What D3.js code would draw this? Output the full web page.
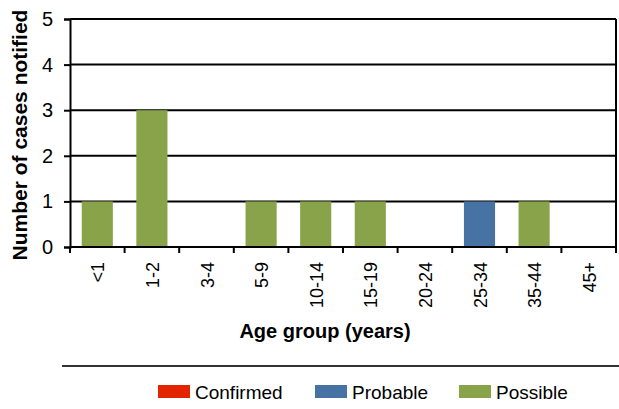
<!DOCTYPE html>
<html>
<head>
<meta charset="utf-8">
<script src="https://cdn.jsdelivr.net/npm/d3@7"></script>
<style>
  body { margin: 0; background: #fff; }
  svg { font-family: "Liberation Sans", Arial, sans-serif; }
</style>
</head>
<body>
<div id="chart"></div>
<script>
var ageGroups = ["<1", "1-2", "3-4", "5-9", "10-14", "15-19", "20-24", "25-34", "35-44", "45+"];
var confirmed = [0, 0, 0, 0, 0, 0, 0, 0, 0, 0];
var probable  = [0, 0, 0, 0, 0, 0, 0, 1, 0, 0];
var possible  = [1, 3, 0, 1, 1, 1, 0, 0, 1, 0];
var seriesNames = ["Confirmed", "Probable", "Possible"];
var seriesColors = ["#e32400", "#4672a4", "#89a34a"];
var yTicks = [0, 1, 2, 3, 4, 5];

var width = 619, height = 409;
var margin = {top: 19, right: 3, bottom: 162, left: 70};
var w = width - margin.left - margin.right,
    h = height - margin.top - margin.bottom;

var svg = d3.select("#chart").append("svg")
    .attr("width", width)
    .attr("height", height);

var g = svg.append("g")
    .attr("transform", "translate(" + margin.left + "," + margin.top + ")");

var table = ageGroups.map(function(a, i) {
  return {age: a, Confirmed: confirmed[i], Probable: probable[i], Possible: possible[i]};
});

var x = d3.scaleBand().domain(ageGroups).range([0, w]).paddingInner(0.43).paddingOuter(0.215);
var xTick = d3.scaleBand().domain(ageGroups).range([0, w]);
var y = d3.scaleLinear().domain([0, 5]).range([h, 0]);
var color = d3.scaleOrdinal().domain(seriesNames).range(seriesColors);

// gridlines
g.selectAll(".grid").data(yTicks.slice(1))
  .enter().append("line")
  .attr("x1", 0).attr("x2", w)
  .attr("y1", function(d) { return y(d); })
  .attr("y2", function(d) { return y(d); })
  .attr("stroke", "#000").attr("stroke-width", 2);

// stacked bars
var stacked = d3.stack().keys(seriesNames)(table);
g.selectAll(".layer").data(stacked)
  .enter().append("g")
  .attr("fill", function(d) { return color(d.key); })
  .selectAll("rect").data(function(d) { return d; })
  .enter().append("rect")
  .filter(function(d) { return d[1] - d[0] > 0; })
  .attr("x", function(d) { return x(d.data.age); })
  .attr("width", x.bandwidth())
  .attr("y", function(d) { return y(d[1]); })
  .attr("height", function(d) { return y(d[0]) - y(d[1]); });

// right border
g.append("line")
  .attr("x1", w).attr("x2", w).attr("y1", 0).attr("y2", h)
  .attr("stroke", "#000").attr("stroke-width", 2);

// y axis
var yAxis = g.append("g")
  .call(d3.axisLeft(y).tickValues(yTicks).tickSize(6).tickPadding(11).tickFormat(d3.format("d")));
yAxis.select(".domain").attr("stroke-width", 2);
yAxis.selectAll(".tick line").attr("stroke-width", 2);
yAxis.selectAll("text").attr("font-size", 20).attr("font-family", "Liberation Sans, Arial, sans-serif").attr("fill", "#000");

// x axis: ticks at category boundaries
var xAxis = g.append("g").attr("transform", "translate(0," + h + ")");
xAxis.append("line").attr("x1", 0).attr("x2", w).attr("stroke", "#000").attr("stroke-width", 2);
xAxis.selectAll(".xt").data(ageGroups.concat(["end"]))
  .enter().append("line")
  .attr("x1", function(d, i) { return i * xTick.step(); })
  .attr("x2", function(d, i) { return i * xTick.step(); })
  .attr("y1", 0).attr("y2", 6)
  .attr("stroke", "#000").attr("stroke-width", 2);
xAxis.selectAll(".xl").data(ageGroups)
  .enter().append("text")
  .attr("transform", function(d) {
    return "translate(" + (xTick(d) + xTick.bandwidth() / 2 + 7) + ",15) rotate(-90)";
  })
  .attr("text-anchor", "end")
  .attr("font-size", 18)
  .text(function(d) { return d; });

// axis titles
svg.append("text")
  .attr("transform", "translate(27," + (margin.top + h / 2 + 2) + ") rotate(-90)")
  .attr("text-anchor", "middle")
  .attr("font-size", 21).attr("font-weight", "bold")
  .text("Number of cases notified");

svg.append("text")
  .attr("x", 325).attr("y", 338)
  .attr("text-anchor", "middle")
  .attr("font-size", 20).attr("font-weight", "bold")
  .text("Age group (years)");

// separator line
svg.append("line")
  .attr("x1", 62).attr("x2", width).attr("y1", 366).attr("y2", 366)
  .attr("stroke", "#333").attr("stroke-width", 2);

// legend
var legendX = [158, 315, 459];
var legend = svg.selectAll(".legend").data(seriesNames)
  .enter().append("g")
  .attr("transform", function(d, i) { return "translate(" + legendX[i] + ",385)"; });
legend.append("rect")
  .attr("width", 32).attr("height", 13)
  .attr("fill", function(d) { return color(d); });
legend.append("text")
  .attr("x", 37).attr("y", 14)
  .attr("font-size", 19)
  .text(function(d) { return d; });
</script>
</body>
</html>
